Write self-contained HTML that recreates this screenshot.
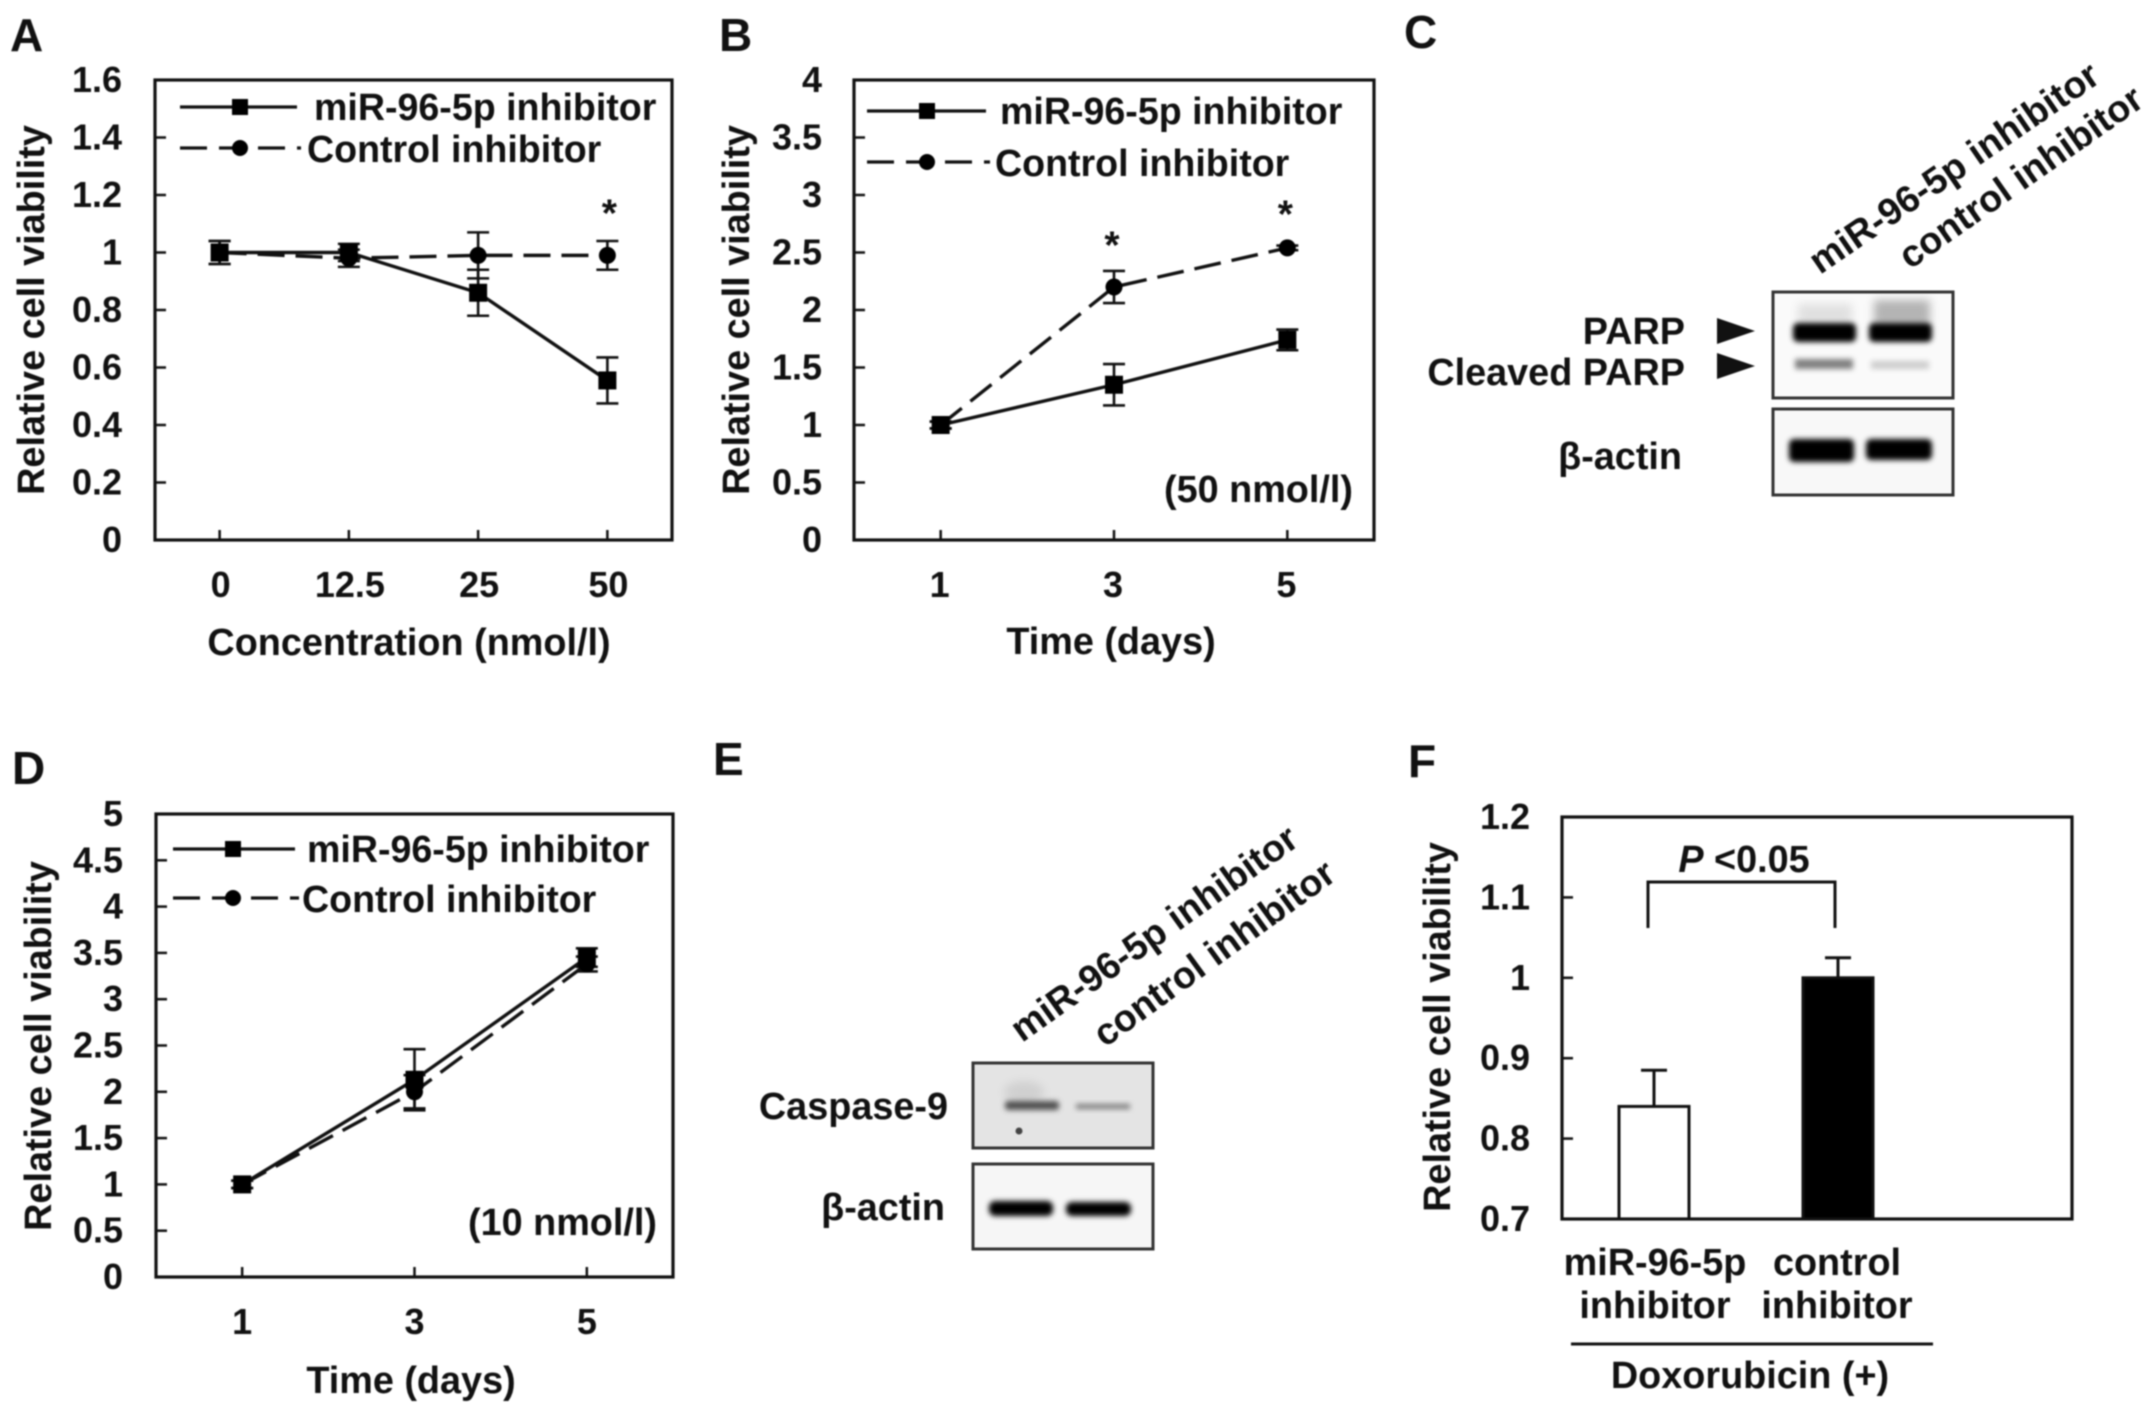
<!DOCTYPE html>
<html lang="en">
<head>
<meta charset="utf-8">
<title>Cell viability figure</title>
<style>
html,body{margin:0;padding:0;background:#fff;width:2150px;height:1415px;overflow:hidden}
svg{display:block;filter:blur(0.8px)}
text{font-family:"Liberation Sans",sans-serif;font-weight:bold;fill:#111}
.tick{font-size:36px}
.title{font-size:37.8px}
.legend{font-size:37.6px}
.letter{font-size:46px}
.blot{font-size:37.8px}
.rot{font-size:37.6px}
.star{font-size:39px}
</style>
</head>
<body>
<svg id="figure" width="2150" height="1415" viewBox="0 0 2150 1415" xmlns="http://www.w3.org/2000/svg">
  <defs>
    <filter id="b1" x="-30%" y="-100%" width="160%" height="300%"><feGaussianBlur stdDeviation="2.6"/></filter>
    <filter id="b2" x="-30%" y="-100%" width="160%" height="300%"><feGaussianBlur stdDeviation="4.5"/></filter>
  </defs>
  <rect width="2150" height="1415" fill="#fff"/>

  <text class="letter" x="10" y="51">A</text>
  <text class="letter" x="719" y="51">B</text>
  <text class="letter" x="1404" y="48">C</text>
  <text class="letter" x="12" y="784">D</text>
  <text class="letter" x="713" y="775">E</text>
  <text class="letter" x="1408" y="777">F</text>

  <g id="panel-a"></g>
  <g id="panel-b"></g>
  <g id="panel-d"></g>
  <g id="panel-f"></g>

  <g>
    <text class="rot" transform="translate(1820 275) rotate(-34.5)">miR-96-5p inhibitor</text>
    <text class="rot" transform="translate(1910 270) rotate(-35)">control inhibitor</text>
    <text class="blot" text-anchor="end" x="1685" y="344">PARP</text>
    <text class="blot" text-anchor="end" x="1685" y="385">Cleaved PARP</text>
    <text class="blot" text-anchor="end" x="1682" y="469">β-actin</text>
    <polygon points="1717,318 1755,331 1717,344" fill="#111"/>
    <polygon points="1717,353 1755,366 1717,379" fill="#111"/>
    <rect x="1773" y="292" width="180" height="106" fill="#fafafa"/>
    <rect x="1874" y="300" width="56" height="26" fill="#b4b4b4" filter="url(#b2)"/>
    <rect x="1798" y="304" width="54" height="20" fill="#e0e0e0" filter="url(#b2)"/>
    <rect x="1793" y="323" width="63" height="19" rx="5" fill="#000" filter="url(#b1)"/>
    <rect x="1869" y="323" width="63" height="19" rx="5" fill="#000" filter="url(#b1)"/>
    <rect x="1795" y="359" width="58" height="10" fill="#808080" filter="url(#b1)"/>
    <rect x="1871" y="361" width="58" height="8" fill="#cdcdcd" filter="url(#b1)"/>
    <rect x="1773" y="292" width="180" height="106" fill="none" stroke="#333" stroke-width="3"/>
    <rect x="1773" y="409" width="180" height="86" fill="#f8f8f8"/>
    <rect x="1789" y="439" width="65" height="23" rx="5" fill="#000" filter="url(#b1)"/>
    <rect x="1866" y="439" width="66" height="21" rx="5" fill="#000" filter="url(#b1)"/>
    <rect x="1773" y="409" width="180" height="86" fill="none" stroke="#333" stroke-width="3"/>
  </g>

  <g>
    <text class="rot" transform="translate(1022 1043) rotate(-35.5)">miR-96-5p inhibitor</text>
    <text class="rot" transform="translate(1105 1048) rotate(-36)">control inhibitor</text>
    <text class="blot" text-anchor="end" x="948" y="1119">Caspase-9</text>
    <text class="blot" text-anchor="end" x="945" y="1220">β-actin</text>
    <rect x="973" y="1063" width="180" height="85" fill="#e4e4e4"/>
    <ellipse cx="1024" cy="1092" rx="20" ry="11" fill="#d0d0d0" filter="url(#b2)"/>
    <rect x="1005" y="1101" width="54" height="9" rx="3" fill="#505050" filter="url(#b1)"/>
    <rect x="1076" y="1104" width="54" height="5" fill="#7c7c7c" filter="url(#b1)"/>
    <circle cx="1019" cy="1131" r="3.5" fill="#444"/>
    <rect x="973" y="1063" width="180" height="85" fill="none" stroke="#333" stroke-width="3"/>
    <rect x="973" y="1164" width="180" height="85" fill="#f6f6f6"/>
    <rect x="989" y="1201" width="64" height="15" rx="6" fill="#000" filter="url(#b1)"/>
    <rect x="1066" y="1202" width="65" height="14" rx="6" fill="#000" filter="url(#b1)"/>
    <rect x="973" y="1164" width="180" height="85" fill="none" stroke="#333" stroke-width="3"/>
  </g>
</svg>

<script>
// Panel A
const categoriesA = ['0', '12.5', '25', '50'];
const yTicksA = ['0', '0.2', '0.4', '0.6', '0.8', '1', '1.2', '1.4', '1.6'];
const mirValuesA = [1.0, 1.0, 0.86, 0.555];
const mirErrorsA = [0.04, 0.03, 0.08, 0.08];
const controlValuesA = [1.0, 0.98, 0.99, 0.99];
const controlErrorsA = [0.04, 0.03, 0.08, 0.05];
const starValuesA = [null, null, null, 1.16];

// Panel B
const categoriesB = ['1', '3', '5'];
const yTicksB = ['0', '0.5', '1', '1.5', '2', '2.5', '3', '3.5', '4'];
const mirValuesB = [1.0, 1.35, 1.74];
const mirErrorsB = [0.03, 0.18, 0.09];
const controlValuesB = [1.0, 2.2, 2.54];
const controlErrorsB = [0.03, 0.14, 0.02];
const starValuesB = [null, 2.62, 2.89];

// Panel D
const categoriesD = ['1', '3', '5'];
const yTicksD = ['0', '0.5', '1', '1.5', '2', '2.5', '3', '3.5', '4', '4.5', '5'];
const mirValuesD = [1.0, 2.13, 3.45];
const mirErrorsD = [0.04, 0.33, 0.1];
const controlValuesD = [1.0, 2.0, 3.38];
const controlErrorsD = [0.04, 0.18, 0.08];

// Panel F
const categoriesF = [['miR-96-5p', 'inhibitor'], ['control', 'inhibitor']];
const yTicksF = ['0.7', '0.8', '0.9', '1', '1.1', '1.2'];
const barValuesF = [0.84, 1.0];
const barErrorsF = [0.045, 0.025];

const NS = 'http://www.w3.org/2000/svg';

function make(parent, tag, attrs, name, content) {
  const el = document.createElementNS(NS, tag);
  for (const k in attrs) el.setAttribute(k, attrs[k]);
  
  
  if (content !== undefined) el.textContent = content;
  parent.appendChild(el);
  return el;
}

function linearY(box, min, max) {
  return v => box.bottom - (v - min) / (max - min) * (box.bottom - box.top);
}
function bandX(box, n) {
  return i => box.left + (i + 0.5) * (box.right - box.left) / n;
}

function drawFrame(g, box) {
  make(g, 'rect', {x: box.left, y: box.top, width: box.right - box.left, height: box.bottom - box.top, fill: 'none', stroke: '#111', 'stroke-width': 3.2}, 'plot-frame');
}

function drawYAxis(g, box, ticks, y, labelRight) {
  ticks.forEach(t => {
    const v = parseFloat(t);
    const py = y(v);
    if (py > box.top + 1 && py < box.bottom - 1) {
      make(g, 'line', {x1: box.left, x2: box.left + 11, y1: py, y2: py, stroke: '#111', 'stroke-width': 2.5}, 'y-tick');
    }
    make(g, 'text', {class: 'tick', x: labelRight, y: py + 12, 'text-anchor': 'end'}, 'y-tick-label', t);
  });
}

function drawErrors(g, x, y, values, errors, name) {
  values.forEach((v, i) => {
    const px = x(i);
    make(g, 'line', {x1: px, x2: px, y1: y(v - errors[i]), y2: y(v + errors[i]), stroke: '#111', 'stroke-width': 2.6}, name + '-error-bar');
    make(g, 'line', {x1: px - 11, x2: px + 11, y1: y(v + errors[i]), y2: y(v + errors[i]), stroke: '#111', 'stroke-width': 2.6}, name + '-error-cap-upper');
    make(g, 'line', {x1: px - 11, x2: px + 11, y1: y(v - errors[i]), y2: y(v - errors[i]), stroke: '#111', 'stroke-width': 2.6}, name + '-error-cap-lower');
  });
}

function drawSeries(g, x, y, values, name, dashed, square) {
  const pts = values.map((v, i) => x(i) + ',' + y(v)).join(' ');
  const attrs = {points: pts, fill: 'none', stroke: '#111', 'stroke-width': 3.4};
  if (dashed) attrs['stroke-dasharray'] = '27 11';
  make(g, 'polyline', attrs, name + '-line');
  values.forEach((v, i) => {
    if (square) {
      make(g, 'rect', {x: x(i) - 9, y: y(v) - 9, width: 18, height: 18, fill: '#000'}, name + '-marker');
    } else {
      make(g, 'circle', {cx: x(i), cy: y(v), r: 8.5, fill: '#000'}, name + '-marker');
    }
  });
}

function drawLegend(g, l) {
  make(g, 'line', {x1: l.x1, x2: l.x2, y1: l.y1, y2: l.y1, stroke: '#111', 'stroke-width': 3.2}, 'legend-line-mir');
  make(g, 'rect', {x: l.mx - 8, y: l.y1 - 8, width: 16, height: 16, fill: '#000'}, 'legend-marker-mir');
  make(g, 'text', {class: 'legend', x: l.tx1, y: l.y1 + 13}, 'legend-label-mir', 'miR-96-5p inhibitor');
  make(g, 'line', {x1: l.x1, x2: l.x2 + 4, y1: l.y2, y2: l.y2, stroke: '#111', 'stroke-width': 3.2, 'stroke-dasharray': '27 12'}, 'legend-line-control');
  make(g, 'circle', {cx: l.mx, cy: l.y2, r: 8, fill: '#000'}, 'legend-marker-control');
  make(g, 'text', {class: 'legend', x: l.tx2, y: l.y2 + 14}, 'legend-label-control', 'Control inhibitor');
}

function drawLinePanel(id, opt) {
  const g = document.getElementById(id);
  const box = opt.box;
  const y = linearY(box, parseFloat(opt.yTicks[0]), parseFloat(opt.yTicks[opt.yTicks.length - 1]));
  const x = bandX(box, opt.categories.length);
  drawFrame(g, box);
  drawYAxis(g, box, opt.yTicks, y, opt.labelRight);
  opt.categories.forEach((c, i) => {
    make(g, 'line', {x1: x(i), x2: x(i), y1: box.bottom, y2: box.bottom - 10, stroke: '#111', 'stroke-width': 2.5}, 'x-tick');
    make(g, 'text', {class: 'tick', x: x(i) + opt.labelShift, y: box.bottom + 57, 'text-anchor': 'middle'}, 'x-tick-label', c);
  });
  drawErrors(g, x, y, opt.control, opt.controlErr, 'control-inhibitor');
  drawErrors(g, x, y, opt.mir, opt.mirErr, 'mir-inhibitor');
  drawSeries(g, x, y, opt.control, 'control-inhibitor', true, false);
  drawSeries(g, x, y, opt.mir, 'mir-inhibitor', false, true);
  if (opt.stars) {
    opt.stars.forEach((s, i) => {
      if (s !== null) make(g, 'text', {class: 'star', x: x(i) + opt.starShift, y: y(s) + 20, 'text-anchor': 'middle'}, 'significance-star', '*');
    });
  }
  drawLegend(g, opt.legend);
  make(g, 'text', {class: 'title', transform: 'translate(' + opt.yTitle[0] + ' ' + opt.yTitle[1] + ') rotate(-90)', 'text-anchor': 'middle'}, 'y-axis-title', 'Relative cell viability');
  make(g, 'text', {class: 'title', x: opt.xTitle[0], y: opt.xTitle[1], 'text-anchor': 'middle'}, 'x-axis-title', opt.xTitle[2]);
  if (opt.note) make(g, 'text', {class: 'title', x: opt.note[0], y: opt.note[1], 'text-anchor': 'end'}, 'dose-annotation', opt.note[2]);
}

drawLinePanel('panel-a', {
  box: {left: 155, right: 672, top: 80, bottom: 540},
  categories: categoriesA, yTicks: yTicksA,
  mir: mirValuesA, mirErr: mirErrorsA, control: controlValuesA, controlErr: controlErrorsA,
  stars: starValuesA, labelRight: 122, labelShift: 1, starShift: 2,
  legend: {x1: 180, x2: 297, mx: 240, y1: 107, y2: 148, tx1: 314, tx2: 307},
  yTitle: [44, 310], xTitle: [409, 655, 'Concentration (nmol/l)']
});
drawLinePanel('panel-b', {
  box: {left: 854, right: 1374, top: 80, bottom: 540},
  categories: categoriesB, yTicks: yTicksB,
  mir: mirValuesB, mirErr: mirErrorsB, control: controlValuesB, controlErr: controlErrorsB,
  stars: starValuesB, labelRight: 822, labelShift: -1, starShift: -2,
  legend: {x1: 867, x2: 986, mx: 927, y1: 111, y2: 162, tx1: 1000, tx2: 995},
  yTitle: [749, 310], xTitle: [1111, 654, 'Time (days)'], note: [1353, 502, '(50 nmol/l)']
});
drawLinePanel('panel-d', {
  box: {left: 156, right: 673, top: 814, bottom: 1277},
  categories: categoriesD, yTicks: yTicksD,
  mir: mirValuesD, mirErr: mirErrorsD, control: controlValuesD, controlErr: controlErrorsD,
  labelRight: 123, labelShift: 0, starShift: 0,
  legend: {x1: 173, x2: 295, mx: 233, y1: 849, y2: 898, tx1: 307, tx2: 302},
  yTitle: [51, 1046], xTitle: [411, 1393, 'Time (days)'], note: [657, 1235, '(10 nmol/l)']
});

(function drawBarPanel() {
  const g = document.getElementById('panel-f');
  const box = {left: 1562, right: 2072, top: 817, bottom: 1219};
  const y = linearY(box, parseFloat(yTicksF[0]), parseFloat(yTicksF[yTicksF.length - 1]));
  const bandLeft = 1654;
  const bandStep = 184;
  const x = i => bandLeft + i * bandStep;
  const barWidth = 70;
  const fills = ['#fff', '#000'];
  const barNames = ['bar-mir-inhibitor', 'bar-control-inhibitor'];
  barValuesF.forEach((v, i) => {
    const px = x(i);
    make(g, 'line', {x1: px, x2: px, y1: y(v), y2: y(v + barErrorsF[i]), stroke: '#111', 'stroke-width': 3}, 'bar-error-line');
    make(g, 'line', {x1: px - 13, x2: px + 13, y1: y(v + barErrorsF[i]), y2: y(v + barErrorsF[i]), stroke: '#111', 'stroke-width': 3}, 'bar-error-cap');
    make(g, 'rect', {x: px - barWidth / 2, y: y(v), width: barWidth, height: box.bottom - y(v), fill: fills[i], stroke: '#111', 'stroke-width': 3}, barNames[i]);
  });
  drawFrame(g, box);
  drawYAxis(g, box, yTicksF, y, 1530);
  const labelX = [1655, 1837];
  categoriesF.forEach((lines, i) => {
    lines.forEach((t, j) => {
      make(g, 'text', {class: 'title', x: labelX[i], y: 1275 + j * 43, 'text-anchor': 'middle'}, 'x-category-label', t);
    });
  });
  make(g, 'line', {x1: 1571, x2: 1933, y1: 1344, y2: 1344, stroke: '#111', 'stroke-width': 3}, 'treatment-line');
  make(g, 'text', {class: 'title', x: 1750, y: 1388, 'text-anchor': 'middle'}, 'treatment-label', 'Doxorubicin (+)');
  make(g, 'polyline', {points: '1648,928 1648,882 1835,882 1835,928', fill: 'none', stroke: '#111', 'stroke-width': 3}, 'significance-bracket');
  const p = make(g, 'text', {class: 'title', x: 1744, y: 872, 'text-anchor': 'middle'}, 'significance-label');
  make(p, 'tspan', {'font-style': 'italic'}, 'p-symbol', 'P');
  make(p, 'tspan', {}, 'p-value', ' <0.05');
  make(g, 'text', {class: 'title', transform: 'translate(1450 1027) rotate(-90)', 'text-anchor': 'middle'}, 'y-axis-title', 'Relative cell viability');
})();
</script>
</body>
</html>
